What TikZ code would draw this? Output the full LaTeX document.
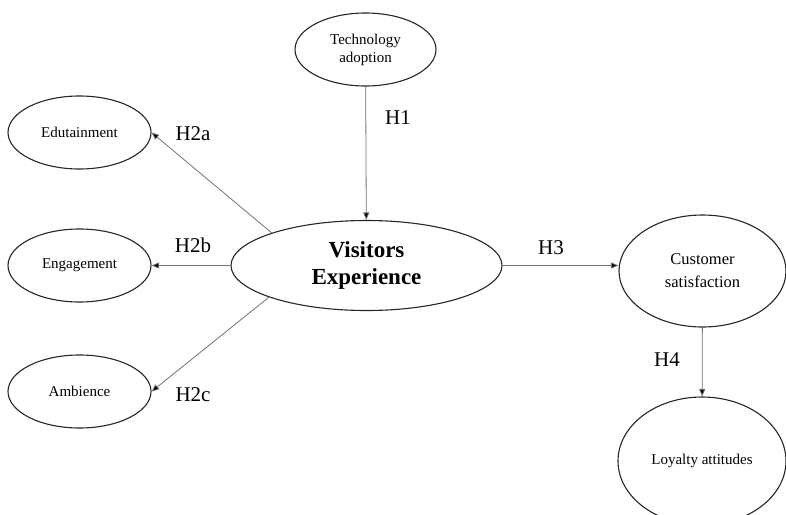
\documentclass[tikz,border=0pt]{standalone}
\usepackage{fontspec}
\setmainfont{Liberation Serif}
\usetikzlibrary{shapes.geometric,arrows.meta}
\begin{document}
\begin{tikzpicture}[x=1pt,y=-1pt,
  oval/.style={ellipse,draw=black!85,line width=1.1pt,inner sep=0pt,align=center,font=\fontsize{15}{18}\selectfont},
  link/.style={draw=black!55,line width=0.8pt,-{Triangle[length=7.5pt,width=6pt,fill=black]}},
  hlab/.style={font=\fontsize{21}{24}\selectfont,inner sep=0pt}]
\useasboundingbox (0,0) rectangle (786,514);
\node[oval,minimum width=141,minimum height=73] (tech) at (365.5,49.5) {Technology\\adoption};
\node[oval,minimum width=143,minimum height=73] (edu) at (79.5,132.5) {Edutainment};
\node[oval,minimum width=143,minimum height=73] (eng) at (79.5,265.5) {Engagement};
\node[oval,minimum width=143,minimum height=73] (amb) at (79.5,391.5) {Ambience};
\node[oval,minimum width=271,minimum height=90,font=\fontsize{23}{27}\selectfont\bfseries] (ve) at (366.5,265.5) {Visitors\\Experience};
\node[oval,minimum width=167,minimum height=112,font=\fontsize{16.5}{23}\selectfont] (cs) at (702.5,271) {Customer\\satisfaction};
\node[oval,minimum width=168,minimum height=128] (loy) at (702,461) {Loyalty attitudes};
\draw[link] (tech) -- (ve);
\draw[link] (ve.161.4) -- (edu.east);
\draw[link] (ve) -- (eng);
\draw[link] (ve.198.6) -- (amb.east);
\draw[link] (ve.east) -- (cs.west |- ve.east);
\draw[link] (cs) -- (loy);
\node[hlab] (h1) at (398,118) {H1};
\node[hlab] (h2a) at (193,134) {H2a};
\node[hlab] (h2b) at (193,245) {H2b};
\node[hlab] (h2c) at (193,395) {H2c};
\node[hlab] (h3) at (551,248) {H3};
\node[hlab] (h4) at (667,360) {H4};
\end{tikzpicture}
\end{document}
